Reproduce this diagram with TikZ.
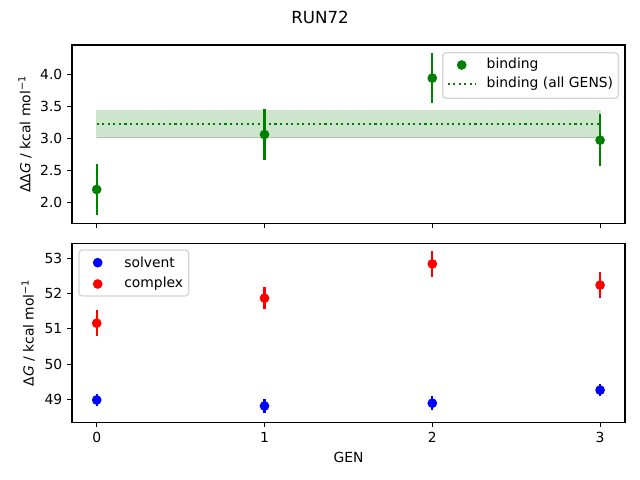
\documentclass[tikz,border=0pt]{standalone}
\usepackage{fontspec}
\setmainfont{DejaVu Sans}

\tikzset{
  spine/.style={draw=black,line width=0.8pt,line join=miter},
  tickmark/.style={draw=black,line width=0.8pt},
  ticklabel/.style={text=black,inner sep=0pt,outer sep=0pt,font=\fontsize{10}{12}\selectfont},
  errbar/.style={line width=1.5pt},
  dot/.style={radius=3.5pt},
  legendbox/.style={draw=black!20,fill=white,fill opacity=0.8,draw opacity=0.8,rounded corners=2.5pt,line width=1pt},
  allgens/.style={line width=1.5pt,dash pattern=on 1.5pt off 2.5pt},
}

\begin{document}
\begin{tikzpicture}[x=0.72pt,y=0.72pt]
\definecolor{fillColor}{RGB}{255,255,255}
\definecolor{bindColor}{RGB}{0,128,0}
\definecolor{solvColor}{RGB}{0,0,255}
\definecolor{cplxColor}{RGB}{255,0,0}
\path[use as bounding box,fill=fillColor] (0,0) rectangle (640,480);

% upper panel: binding
\path[fill=bindColor,fill opacity=0.2,draw=bindColor,draw opacity=0.2,line width=1pt] ( 96.7,342.3) rectangle (600.1,369.2);
\path[draw=bindColor,allgens] ( 96.7,356.4) -- (600.1,356.4);

\path[draw=bindColor,errbar] ( 96.7,264.9) -- ( 96.7,316.1);
\path[draw=bindColor,errbar] (264.5,319.9) -- (264.5,371.1);
\path[draw=bindColor,errbar] (432.3,376.9) -- (432.3,426.9);
\path[draw=bindColor,errbar] (600.1,313.6) -- (600.1,366.0);

\path[fill=bindColor,dot] ( 96.7,290.5) circle;
\path[fill=bindColor,dot] (264.5,345.5) circle;
\path[fill=bindColor,dot] (432.3,401.9) circle;
\path[fill=bindColor,dot] (600.1,339.8) circle;

\path[spine] ( 72.0,256.7) rectangle (625.0,435.0);

\path[tickmark] ( 96.7,256.7) -- ( 96.7,251.8);
\path[tickmark] (264.5,256.7) -- (264.5,251.8);
\path[tickmark] (432.3,256.7) -- (432.3,251.8);
\path[tickmark] (600.1,256.7) -- (600.1,251.8);

\path[tickmark] ( 72.0,277.7) -- ( 67.1,277.7);
\path[tickmark] ( 72.0,309.7) -- ( 67.1,309.7);
\path[tickmark] ( 72.0,341.7) -- ( 67.1,341.7);
\path[tickmark] ( 72.0,373.7) -- ( 67.1,373.7);
\path[tickmark] ( 72.0,405.7) -- ( 67.1,405.7);

\node[ticklabel,anchor=east] (ddgA) at ( 62.3,277.7) {2.0};
\node[ticklabel,anchor=east] (ddgB) at ( 62.3,309.7) {2.5};
\node[ticklabel,anchor=east] (ddgC) at ( 62.3,341.7) {3.0};
\node[ticklabel,anchor=east] (ddgD) at ( 62.3,373.7) {3.5};
\node[ticklabel,anchor=east] (ddgE) at ( 62.3,405.7) {4.0};

\node[ticklabel,rotate=90] (ddgLabel) at ( 25.0,345.8) {ΔΔ\textit{G} / kcal mol\textsuperscript{−1}};

\path[legendbox] (442.7,381.7) rectangle (618.3,427.3);
\path[fill=bindColor,dot] (461.7,415.0) circle;
\path[draw=bindColor,allgens] (447.7,396.0) -- (475.5,396.0);
\node[ticklabel,anchor=west] (legBind) at (486.7,415.0) {binding};
\node[ticklabel,anchor=west] (legAll) at (486.7,396.0) {binding (all GENS)};

% lower panel: solvent and complex
\path[draw=solvColor,errbar] ( 96.7, 73.7) -- ( 96.7, 86.3);
\path[draw=solvColor,errbar] (264.5, 66.6) -- (264.5, 81.4);
\path[draw=solvColor,errbar] (432.3, 69.8) -- (432.3, 83.8);
\path[draw=solvColor,errbar] (600.1, 83.9) -- (600.1, 95.9);

\path[draw=cplxColor,errbar] ( 96.7,143.8) -- ( 96.7,169.8);
\path[draw=cplxColor,errbar] (264.5,170.6) -- (264.5,193.2);
\path[draw=cplxColor,errbar] (432.3,203.4) -- (432.3,228.8);
\path[draw=cplxColor,errbar] (600.1,181.5) -- (600.1,208.3);

\path[fill=solvColor,dot] ( 96.7, 80.0) circle;
\path[fill=solvColor,dot] (264.5, 74.0) circle;
\path[fill=solvColor,dot] (432.3, 76.8) circle;
\path[fill=solvColor,dot] (600.1, 89.9) circle;

\path[fill=cplxColor,dot] ( 96.7,156.8) circle;
\path[fill=cplxColor,dot] (264.5,181.9) circle;
\path[fill=cplxColor,dot] (432.3,216.1) circle;
\path[fill=cplxColor,dot] (600.1,194.9) circle;

\path[spine] ( 72.0, 57.7) rectangle (625.0,236.7);

\path[tickmark] ( 96.7, 57.7) -- ( 96.7, 52.8);
\path[tickmark] (264.5, 57.7) -- (264.5, 52.8);
\path[tickmark] (432.3, 57.7) -- (432.3, 52.8);
\path[tickmark] (600.1, 57.7) -- (600.1, 52.8);

\node[ticklabel,anchor=north] (genA) at ( 96.7, 47.9) {0};
\node[ticklabel,anchor=north] (genB) at (264.5, 47.9) {1};
\node[ticklabel,anchor=north] (genC) at (432.3, 47.9) {2};
\node[ticklabel,anchor=north] (genD) at (600.1, 47.9) {3};

\path[tickmark] ( 72.0, 80.7) -- ( 67.1, 80.7);
\path[tickmark] ( 72.0,115.9) -- ( 67.1,115.9);
\path[tickmark] ( 72.0,151.2) -- ( 67.1,151.2);
\path[tickmark] ( 72.0,186.4) -- ( 67.1,186.4);
\path[tickmark] ( 72.0,221.7) -- ( 67.1,221.7);

\node[ticklabel,anchor=east] (dgA) at ( 62.3, 80.7) {49};
\node[ticklabel,anchor=east] (dgB) at ( 62.3,115.9) {50};
\node[ticklabel,anchor=east] (dgC) at ( 62.3,151.2) {51};
\node[ticklabel,anchor=east] (dgD) at ( 62.3,186.4) {52};
\node[ticklabel,anchor=east] (dgE) at ( 62.3,221.7) {53};

\node[ticklabel,rotate=90] (dgLabel) at ( 28.3,147.2) {Δ\textit{G} / kcal mol\textsuperscript{−1}};

\path[legendbox] ( 79.0,184.0) rectangle (188.7,230.0);
\path[fill=solvColor,dot] ( 97.7,217.3) circle;
\path[fill=cplxColor,dot] ( 97.7,196.0) circle;
\node[ticklabel,anchor=west] (legSolv) at (124.3,217.3) {solvent};
\node[ticklabel,anchor=west] (legCplx) at (124.3,196.0) {complex};

% shared labels
\node[ticklabel] (genLabel) at (348.5, 22.3) {GEN};
\node[ticklabel,font=\fontsize{12}{14}\selectfont] (runTitle) at (320.0,463.0) {RUN72};
\end{tikzpicture}
\end{document}
